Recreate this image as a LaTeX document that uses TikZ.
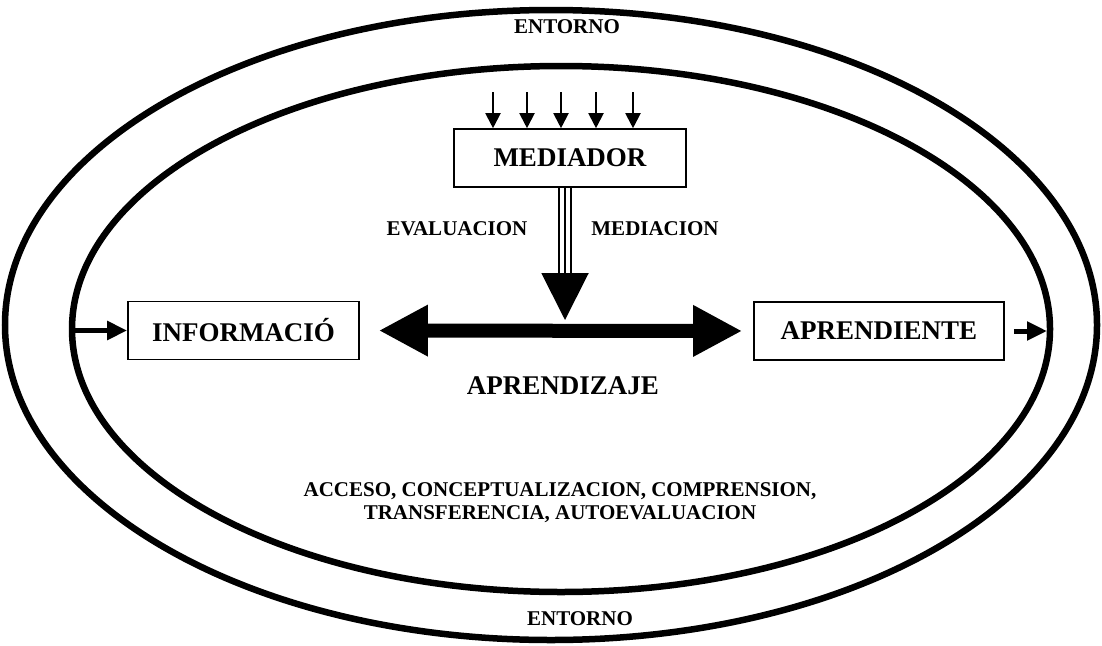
\documentclass[tikz,border=0pt]{standalone}
\usepackage{fontspec}
\setmainfont{Liberation Serif}
\usetikzlibrary{arrows.meta,positioning}
\tikzset{ring/.style={line width=6.5pt},
 lbox/.style={draw,line width=1.6pt,minimum width=232pt,minimum height=58pt,inner sep=0pt},
 big/.style={font=\fontsize{27}{31}\selectfont\bfseries},
 sml/.style={font=\fontsize{21}{23}\selectfont\bfseries,align=center},
 tinyarr/.style={-{Triangle[length=15pt,width=15pt]},line width=2pt},
 sidearr/.style={-{Triangle[length=20pt,width=18pt]},line width=5pt},
 bigarr/.style={{Triangle[length=49pt,width=48pt]}-{Triangle[length=49pt,width=48pt]},line width=14pt},
 tri/.style={line width=2pt}}
\begin{document}
\begin{tikzpicture}[x=1pt,y=-1pt]
\useasboundingbox (0,0) rectangle (1102,645);
% entorno
\draw[ring] (551,325) ellipse [x radius=546pt,y radius=315pt];
\draw[ring] (561,329) ellipse [x radius=489pt,y radius=263pt];
\node[sml] (ent1) at (567,27) {ENTORNO};
\node[sml] (ent2) at (580,619) {ENTORNO};
% cajas
\node[lbox,big] (med) at (570,158) {MEDIADOR};
\node[lbox,big,minimum width=231pt] (info) at (243.5,330.5) {INFORMACIÓ};
\node[lbox,big,minimum width=250pt] (apr) at (879,331) {APRENDIENTE};
\foreach \x [count=\i] in {493,527,561,596,633}{\coordinate (t\i) at (\x,92);\draw[tinyarr] (t\i) -- (t\i |- med.north);}
% mediacion
\coordinate (mid) at (565,320);
\coordinate (mtop) at (med.south -| mid);
\foreach \d in {-6,6}{\draw[tri,shorten >=47pt] ([xshift=\d pt]mtop) -- ([xshift=\d pt]mid);}
\draw[tri,-{Triangle[length=47pt,width=47pt]}] (mtop) -- (mid);
\node[sml] (eva) at (457,229) {EVALUACION};
\node[sml] (medi) at (655,229) {MEDIACION};
% aprendizaje
\draw[bigarr,shorten <=19pt,shorten >=11pt] (info.east) -- (apr.west);
\coordinate (inl) at (72,330.5);\coordinate (inr) at (1047,331);
\draw[sidearr] (inl) -- (info.west);\draw[sidearr,shorten <=9pt] (apr.east) -- (inr);
\node[big] (apz) at (563,386) {APRENDIZAJE};
\node[sml] (acc) at (560,503) {ACCESO, CONCEPTUALIZACION, COMPRENSION,\\TRANSFERENCIA, AUTOEVALUACION};
\end{tikzpicture}
\end{document}
